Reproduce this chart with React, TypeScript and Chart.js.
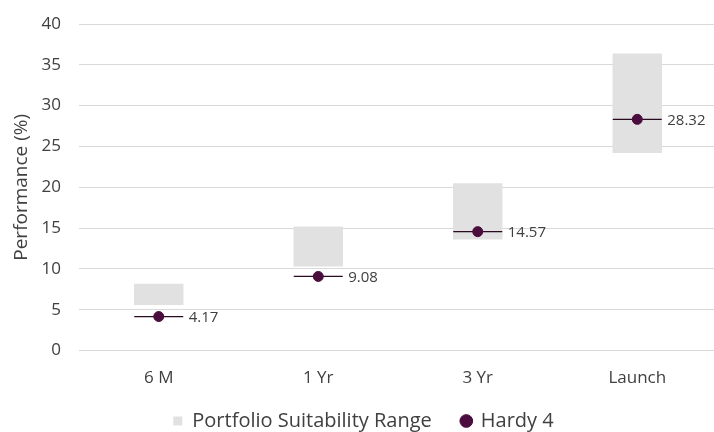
import React, { useEffect, useRef } from "react";
import { Chart, registerables } from "chart.js";

Chart.register(...registerables);

const categories = ["6 M", "1 Yr", "3 Yr", "Launch"];
const rangeLow = [5.6, 10.3, 13.6, 24.2];
const rangeHigh = [8.2, 15.2, 20.5, 36.4];
const hardyValues = [4.17, 9.08, 14.57, 28.32];
const yTicks = [0, 5, 10, 15, 20, 25, 30, 35, 40];

const FONT = "'Open Sans', 'Noto Sans', sans-serif";
const MARK = "#4a0d3d";
const TEXT = "#404040";

const labelPlugin = {
  id: "valueLabels",
  afterDatasetsDraw(chart: any) {
    const meta = chart.getDatasetMeta(2);
    const ctx = chart.ctx;
    ctx.save();
    ctx.font = `15px ${FONT}`;
    ctx.fillStyle = TEXT;
    ctx.textAlign = "left";
    ctx.textBaseline = "middle";
    meta.data.forEach((pt: any, i: number) => {
      ctx.fillText(hardyValues[i].toFixed(2), pt.x + 30, pt.y + 1);
    });
    ctx.restore();
  },
};

export default function App() {
  const ref = useRef<HTMLCanvasElement>(null);
  useEffect(() => {
    if (!ref.current) return;
    const chart = new Chart(ref.current, {
      type: "bar",
      data: {
        labels: categories,
        datasets: [
          {
            type: "bar",
            label: "Portfolio Suitability Range",
            data: rangeLow.map((l, i) => [l, rangeHigh[i]]) as any,
            backgroundColor: "#e1e1e1",
            borderWidth: 0,
            barPercentage: 1,
            categoryPercentage: 0.31,
            pointStyle: "rect",
            order: 3,
          } as any,
          {
            type: "line",
            label: "line",
            data: hardyValues,
            showLine: false,
            pointStyle: "line",
            pointRadius: 24.5,
            borderColor: "#2a0a20",
            pointBorderColor: "#2a0a20",
            pointBorderWidth: 1.2,
            order: 2,
          } as any,
          {
            type: "line",
            label: "Hardy 4",
            data: hardyValues,
            showLine: false,
            pointStyle: "circle",
            pointRadius: 5,
            backgroundColor: MARK,
            borderColor: MARK,
            pointBackgroundColor: MARK,
            pointBorderColor: MARK,
            order: 1,
          } as any,
        ],
      },
      options: {
        animation: false,
        responsive: true,
        maintainAspectRatio: false,
        layout: { autoPadding: false, padding: { top: 0, right: 0, left: 10, bottom: -9 } },
        plugins: {
          tooltip: { enabled: false },
          legend: {
            position: "bottom",
            labels: {
              sort: (a: any, b: any) => a.datasetIndex - b.datasetIndex,
              filter: (item: any) => item.text !== "line",
              usePointStyle: true,
              boxWidth: 9,
              boxHeight: 9,
              padding: 30,
              color: TEXT,
              font: { family: FONT, size: 20 },
            },
          },
        },
        scales: {
          x: {
            grid: { display: false },
            border: { color: "#d9d9d9" },
            ticks: { color: TEXT, font: { family: FONT, size: 17 }, padding: 9 },
            afterFit: (s: any) => {
              s.height = s.height - 16;
              s._computeLabelArea = () => undefined;
            },
          },
          y: {
            min: 0,
            max: 40,
            afterBuildTicks: (axis: any) => {
              axis.ticks = yTicks.map((v) => ({ value: v }));
            },
            afterFit: (s: any) => {
              s.width = 69;
              s.paddingTop = 24;
            },
            grid: { color: "#d9d9d9", drawTicks: false },
            border: { display: false },
            ticks: { color: TEXT, font: { family: FONT, size: 17 }, padding: 18 },
            title: {
              display: true,
              text: "Performance (%)",
              color: TEXT,
              font: { family: FONT, size: 19 },
              padding: { top: 0, bottom: 2 },
            },
          },
        },
      },
      plugins: [labelPlugin],
    });
    return () => chart.destroy();
  }, []);
  return (
    <div style={{ position: "fixed", left: 0, top: 0, width: 717, height: 432 }}>
      <canvas ref={ref} />
    </div>
  );
}
